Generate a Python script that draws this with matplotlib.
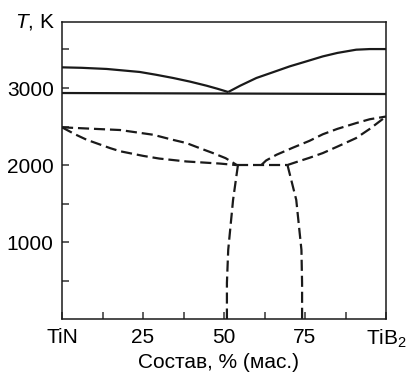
import matplotlib
matplotlib.use("Agg")
import matplotlib.pyplot as plt

plt.rcParams['font.family'] = ['Liberation Sans', 'DejaVu Sans']
plt.rcParams['mathtext.fontset'] = 'custom'
plt.rcParams['mathtext.rm'] = 'Liberation Sans'
plt.rcParams['mathtext.it'] = 'Liberation Sans:italic'

# Liquidus (solid)
liq_left_x = [0, 6, 13.8, 24, 29, 34.3, 39.5, 44.6, 48, 51.3]
liq_left_T = [3268, 3262, 3247, 3208, 3172, 3130, 3083, 3030, 2990, 2948]
liq_right_x = [51.3, 55, 60, 65, 70.3, 75, 80.5, 85, 90.8, 95, 100]
liq_right_T = [2948, 3030, 3130, 3203, 3281, 3340, 3410, 3455, 3497, 3505, 3505]
# Eutectic line (solid)
eut_x = [0, 100]
eut_T = [2935, 2922]

# Dashed curves
lens_l_up_x = [0, 9.6, 17.9, 28.1, 34, 38.4, 42.5, 46.6, 50.5, 54]
lens_l_up_T = [2490, 2471, 2455, 2394, 2330, 2286, 2220, 2156, 2090, 2000]
lens_l_lo_x = [0, 4, 7.6, 14.8, 17.9, 25, 30, 38.4, 48.7, 54]
lens_l_lo_T = [2490, 2400, 2329, 2221, 2180, 2120, 2085, 2047, 2020, 2000]
lens_r_up_x = [61.5, 63, 66.2, 71.2, 76.4, 80.5, 85, 90.8, 95, 100]
lens_r_up_T = [2000, 2060, 2134, 2225, 2315, 2400, 2470, 2545, 2595, 2630]
lens_r_lo_x = [69.5, 72, 76.4, 80.5, 85, 90.8, 95, 100]
lens_r_lo_T = [2000, 2035, 2095, 2156, 2240, 2351, 2470, 2630]
eutectoid_x = [54, 69.5]
eutectoid_T = [2000, 2000]
solv_l_x = [54.3, 52.8, 51.3, 50.9, 50.9]
solv_l_T = [2000, 1549, 900, 471, 0]
solv_r_x = [69.6, 72.3, 73.9, 74.1, 74.1]
solv_r_T = [2000, 1549, 900, 467, 0]

xticks = [0, 12.5, 25, 37.5, 50, 62.5, 75, 87.5, 100]
xticklabels = ['TiN', '', '25', '', '50', '', '75', '', 'TiB$_2$']
yticks = [500, 1000, 1500, 2000, 2500, 3000, 3500]
yticklabels = ['', '1000', '', '2000', '', '3000', '']

fig = plt.figure(figsize=(4.12, 3.72), dpi=100)
ax = fig.add_axes([62/412, 1 - 319.3/372, 324/412, (319.3 - 21.7)/372])

lw = 1.6
solid_kw = dict(color='#1a1a1a', lw=lw, solid_capstyle='butt')
dash_kw = dict(color='#1a1a1a', lw=lw, linestyle=(0, (5, 2.2)), dash_capstyle='butt')

ax.plot(liq_left_x, liq_left_T, **solid_kw)
ax.plot(liq_right_x, liq_right_T, **solid_kw)
ax.plot(eut_x, eut_T, **solid_kw)
for xs, ts in [(lens_l_up_x, lens_l_up_T), (lens_l_lo_x, lens_l_lo_T),
               (lens_r_up_x, lens_r_up_T), (lens_r_lo_x, lens_r_lo_T),
               (eutectoid_x, eutectoid_T), (solv_l_x, solv_l_T), (solv_r_x, solv_r_T)]:
    ax.plot(xs, ts, **dash_kw)

ax.set_xlim(0, 100)
ax.set_ylim(0, 3860)
ax.set_xticks(xticks)
ax.set_xticklabels(xticklabels)
ax.set_yticks(yticks)
ax.set_yticklabels(yticklabels)
ax.tick_params(direction='in', length=5, width=1.1, color='#333333', labelsize=15)
ax.tick_params(axis='x', pad=6)
ax.tick_params(axis='y', pad=6)
for s in ax.spines.values():
    s.set_linewidth(1.1)
    s.set_color('#1a1a1a')

ax.set_xlabel('Состав, % (мас.)', fontsize=15, labelpad=2)
ax.xaxis.label.set_x((218 - 62) / 324)

fig.text(55/412, 1 - 22/372, '$T$, K', fontsize=15, ha='right', va='center')

fig.savefig('out.png', dpi=100)
